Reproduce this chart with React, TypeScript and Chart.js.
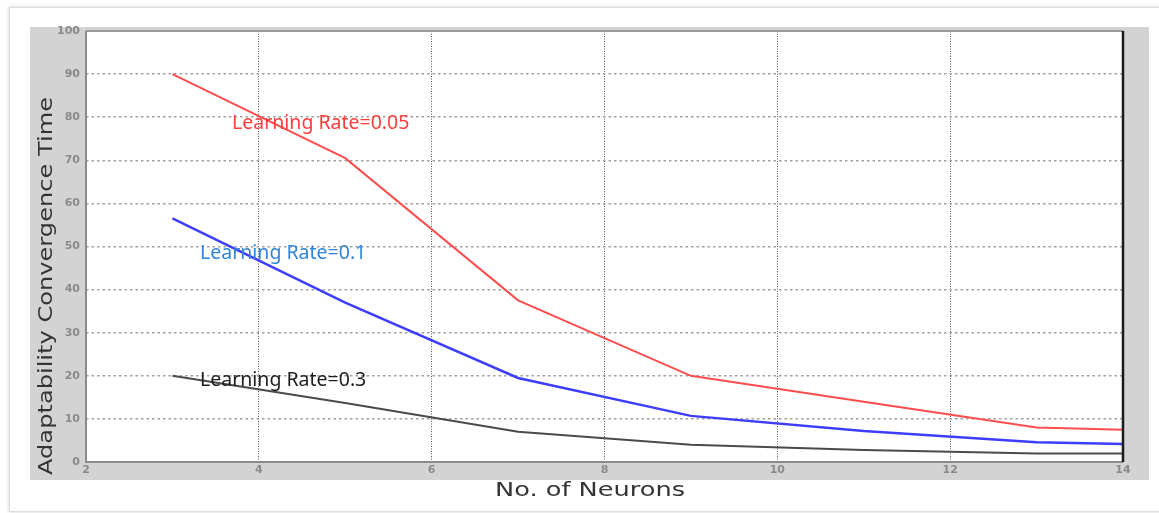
import React, { useEffect, useRef } from "react";
import { Chart, registerables } from "chart.js";

Chart.register(...registerables);

const neurons = [3, 5, 7, 9, 11, 13, 14];
const rate005 = [90, 70.5, 37.5, 20, 14, 8, 7.5];
const rate01 = [56.5, 37, 19.5, 10.7, 7.2, 4.6, 4.2];
const rate03 = [20, 13.7, 7, 4, 2.8, 2, 2];

const xTicks = [2, 4, 6, 8, 10, 12, 14];
const yTicks = [0, 10, 20, 30, 40, 50, 60, 70, 80, 90, 100];

const xTitle = "No. of Neurons";
const yTitle = "Adaptability Convergence Time";

const labelTexts = ["Learning Rate=0.05", "Learning Rate=0.1", "Learning Rate=0.3"];
const labelX = [3.69, 3.32, 3.32];
const labelY = [78.6, 48.3, 19];
const labelColors = ["#ff3c3c", "#2f86d8", "#1e1e1e"];

const toPts = (ys: number[]) => neurons.map((x, i) => ({ x, y: ys[i] }));

const decor = {
  id: "decor",
  beforeDraw(chart: any) {
    const { ctx, chartArea } = chart;
    ctx.save();
    ctx.fillStyle = "#d3d3d3";
    ctx.fillRect(30, 27, 1119, 453);
    ctx.fillStyle = "#ffffff";
    ctx.fillRect(chartArea.left, chartArea.top, chartArea.right - chartArea.left, chartArea.bottom - chartArea.top);
    ctx.restore();
  },
  afterDatasetsDraw(chart: any) {
    const { ctx, chartArea, scales } = chart;
    ctx.save();
    ctx.lineWidth = 2;
    ctx.strokeStyle = "#9a9a9a";
    ctx.beginPath();
    ctx.moveTo(chartArea.left, chartArea.top);
    ctx.lineTo(chartArea.right, chartArea.top);
    ctx.stroke();
    ctx.strokeStyle = "#8a8a8a";
    ctx.beginPath();
    ctx.moveTo(chartArea.left, chartArea.top);
    ctx.lineTo(chartArea.left, chartArea.bottom);
    ctx.lineTo(chartArea.right, chartArea.bottom);
    ctx.stroke();
    ctx.strokeStyle = "#1a1a1a";
    ctx.lineWidth = 2.5;
    ctx.beginPath();
    ctx.moveTo(chartArea.right, chartArea.top);
    ctx.lineTo(chartArea.right, chartArea.bottom);
    ctx.stroke();

    ctx.font = "19.5px 'Noto Sans'";
    ctx.textAlign = "left";
    ctx.textBaseline = "middle";
    labelTexts.forEach((t, i) => {
      ctx.fillStyle = labelColors[i];
      ctx.fillText(t, scales.x.getPixelForValue(labelX[i]), scales.y.getPixelForValue(labelY[i]));
    });

    ctx.fillStyle = "#333333";
    ctx.font = "20px 'DejaVu Sans'";
    ctx.textAlign = "center";
    ctx.textBaseline = "middle";
    let w = ctx.measureText(xTitle).width;
    ctx.save();
    ctx.translate(590, 491);
    ctx.scale(190 / w, 1);
    ctx.fillText(xTitle, 0, 0);
    ctx.restore();

    w = ctx.measureText(yTitle).width;
    ctx.save();
    ctx.translate(47, 286);
    ctx.rotate(-Math.PI / 2);
    ctx.scale(378 / w, 1);
    ctx.fillText(yTitle, 0, 0);
    ctx.restore();
    ctx.restore();
  },
};

export default function App() {
  const ref = useRef<HTMLCanvasElement>(null);
  useEffect(() => {
    if (!ref.current) return;
    const chart = new Chart(ref.current, {
      type: "line",
      data: {
        datasets: [
          { data: toPts(rate005), borderColor: "#ff4d4d", borderWidth: 2, pointRadius: 0, tension: 0 },
          { data: toPts(rate01), borderColor: "#3d3dff", borderWidth: 2.5, pointRadius: 0, tension: 0 },
          { data: toPts(rate03), borderColor: "#4a4a4a", borderWidth: 2, pointRadius: 0, tension: 0 },
        ],
      },
      options: {
        animation: false,
        responsive: false,
        layout: { padding: { left: 30, right: 36, top: 31, bottom: 33 } },
        plugins: { legend: { display: false }, tooltip: { enabled: false } },
        scales: {
          x: {
            type: "linear",
            min: 2,
            max: 14,
            afterBuildTicks: (s: any) => {
              s.ticks = xTicks.map((v) => ({ value: v }));
            },
            afterFit: (s: any) => {
              s.height = 18;
            },
            ticks: { color: "#8a8a8a", font: { family: "DejaVu Sans", size: 11, weight: "bold" }, padding: 2, maxRotation: 0 },
            grid: { color: "#555555", lineWidth: 1, drawTicks: false },
            border: { display: false, dash: [1, 1.5] },
          },
          y: {
            min: 0,
            max: 100,
            afterBuildTicks: (s: any) => {
              s.ticks = yTicks.map((v) => ({ value: v }));
            },
            afterFit: (s: any) => {
              s.width = 56;
            },
            ticks: { color: "#8a8a8a", font: { family: "DejaVu Sans", size: 11, weight: "bold" }, padding: 6 },
            grid: { color: "#a0a0a0", lineWidth: 1.5, drawTicks: false },
            border: { display: false, dash: [2.5, 3] },
          },
        },
      },
      plugins: [decor],
    });
    return () => chart.destroy();
  }, []);
  return (
    <div style={{ position: "absolute", left: 0, top: 0, width: 1159, height: 513, overflow: "hidden", background: "#fff" }}>
      <div
        style={{
          position: "absolute",
          left: 9,
          top: 7,
          width: 1160,
          height: 503,
          border: "1px solid #dcdcdc",
          boxShadow: "0 0 4px rgba(0,0,0,0.18)",
          background: "#fff",
        }}
      />
      <canvas ref={ref} width={1159} height={513} style={{ position: "absolute", left: 0, top: 0 }} />
    </div>
  );
}
